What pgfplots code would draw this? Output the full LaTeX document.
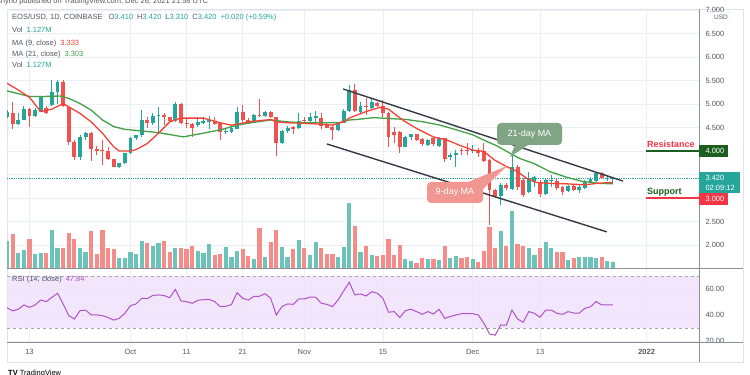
\documentclass[border=0pt]{standalone}
\usepackage{pgfplots}
\pgfplotsset{compat=1.18}
\usepackage{fontspec}
\setmainfont{Liberation Sans}
\definecolor{cup}{RGB}{38,166,154}
\definecolor{cdn}{RGB}{239,83,80}
\definecolor{vup}{RGB}{108,195,186}
\definecolor{vdn}{RGB}{245,140,137}
\definecolor{gridc}{RGB}{234,238,245}
\definecolor{txt}{RGB}{85,88,98}
\definecolor{maR}{RGB}{244,67,54}
\definecolor{maG}{RGB}{67,160,71}
\definecolor{rsiC}{RGB}{178,82,200}
\definecolor{band}{RGB}{238,224,250}
\definecolor{sep}{RGB}{140,143,152}
\definecolor{frame}{RGB}{224,227,235}
\definecolor{chan}{RGB}{54,58,69}
\definecolor{boxG}{RGB}{128,165,132}
\definecolor{boxR}{RGB}{242,150,145}
\definecolor{resR}{RGB}{242,54,69}
\definecolor{supG}{RGB}{27,94,32}
\pgfplotsset{
  base/.style={scale only axis, width=692pt, xmin=-4.01, xmax=119.34,
    axis line style={draw=none}, major tick length=0pt, xticklabels={}, yticklabels={},
    unbounded coords=jump},
  pane/.style={base, at={(7pt,107pt)}, anchor=south west, height=258pt, ymin=1.511, ymax=7.0},
}
\newcommand{\sm}{\fontsize{7.5}{8}\selectfont}
\begin{document}
\begin{tikzpicture}[x=1pt,y=1pt]
\useasboundingbox (0,0) rectangle (750,375);
\clip (0,0) rectangle (750,375);
\fill[white] (0,0) rectangle (750,375);
% frame
\draw[frame, line width=0.8pt] (7,13) rectangle (743,366);
% price grid + scale
\begin{axis}[pane, xtick={0,18,28,38,49,63,79,91,110}, ytick={2,2.5,3,3.5,4,4.5,5,5.5,6,6.5,7},
  grid=major, grid style={gridc, line width=0.7pt},
  yticklabel pos=right, yticklabels={2.000,2.500,,,,4.500,5.000,5.500,6.000,6.500,7.000},
  yticklabel style={font=\sm, text=txt, anchor=west, xshift=3pt}]
\end{axis}
% volume
\begin{axis}[pane, ymin=0, ymax=258, xtick=\empty, ytick=\empty]
\addplot[ycomb, vup, line width=4.2pt] coordinates {(-4,27)(-2,15)(-1,18)(1,14)(2,15)(4,38)(5,20)(9,20)(10,16)(16,10)(17,10)(18,16)(19,14)(20,27)(22,22)(23,25)(26,20)(30,17)(31,15)(32,24)(35,21)(36,11)(37,17)(40,9)(42,11)(45,21)(46,11)(48,28)(50,13)(51,26)(55,11)(56,21)(57,65)(59,16)(61,13)(67,9)(68,7)(71,9)(73,8)(75,10)(76,12)(79,9)(84,37)(86,57)(89,20)(90,13)(92,26)(93,20)(96,8)(98,11)(99,11)(100,11)(101,10)(103,7)(104,6)};
\addplot[ycomb, vdn, line width=4.2pt] coordinates {(-3,34)(0,29)(3,15)(6,20)(7,35)(8,29)(11,37)(12,14)(13,38)(14,20)(15,19)(21,25)(24,27)(25,16)(27,20)(28,19)(29,22)(33,13)(34,14)(38,19)(39,12)(41,40)(43,26)(44,38)(47,19)(49,20)(52,20)(53,14)(54,14)(58,42)(60,22)(62,12)(63,13)(64,29)(65,13)(66,23)(69,5)(70,10)(72,9)(74,22)(77,10)(78,11)(80,6)(81,17)(82,41)(83,20)(85,22)(87,24)(88,22)(91,20)(94,16)(95,16)(97,10)(102,11)};
\end{axis}
% candles and overlays
\begin{axis}[pane, xtick=\empty, ytick=\empty]
\addplot[cup, densely dotted, line width=0.8pt] coordinates {(-4.01,3.42)(119.34,3.42)};
% green wicks
\addplot[cup, line width=0.9pt] coordinates {
(-4,4.70)(-4,4.87)(-4,nan)(-2,4.55)(-2,4.80)(-2,nan)(-1,4.66)(-1,4.957)(-1,nan)(1,4.73)(1,4.91)(1,nan)
(2,4.82)(2,5.16)(2,nan)(4,4.96)(4,5.52)(4,nan)(5,5.01)(5,5.51)(5,nan)(9,3.81)(9,4.34)(9,nan)
(10,4.23)(10,4.41)(10,nan)(16,3.645)(16,3.75)(16,nan)(17,3.72)(17,3.96)(17,nan)(18,3.94)(18,4.30)(18,nan)
(19,4.23)(19,4.35)(19,nan)(20,4.30)(20,4.87)(20,nan)(22,4.55)(22,4.815)(22,nan)(23,4.38)(23,4.93)(23,nan)
(26,4.62)(26,5.05)(26,nan)(30,4.52)(30,4.73)(30,nan)(31,4.57)(31,4.73)(31,nan)(32,4.46)(32,4.74)(32,nan)
(35,4.36)(35,4.46)(35,nan)(36,4.38)(36,4.52)(36,nan)(37,4.46)(37,4.93)(37,nan)(40,4.60)(40,4.79)(40,nan)
(42,4.73)(42,4.86)(42,nan)(45,4.15)(45,4.45)(45,nan)(46,4.39)(46,4.53)(46,nan)(48,4.46)(48,4.80)(48,nan)
(50,4.62)(50,4.815)(50,nan)(51,4.60)(51,4.86)(51,nan)(55,4.43)(55,4.62)(55,nan)(56,4.59)(56,4.89)(56,nan)
(57,4.84)(57,5.40)(57,nan)(59,4.80)(59,5.05)(59,nan)(61,4.89)(61,5.10)(61,nan)(67,4.08)(67,4.32)(67,nan)
(68,4.23)(68,4.37)(68,nan)(71,4.11)(71,4.25)(71,nan)(73,4.09)(73,4.30)(73,nan)(75,3.81)(75,3.95)(75,nan)
(76,3.67)(76,4.02)(76,nan)(79,3.96)(79,4.13)(79,nan)(84,2.85)(84,3.31)(84,nan)(86,3.17)(86,3.915)(86,nan)
(89,3.11)(89,3.56)(89,nan)(90,3.23)(90,3.47)(90,nan)(92,3.06)(92,3.42)(92,nan)(93,3.23)(93,3.49)(93,nan)
(96,3.135)(96,3.275)(96,nan)(98,3.10)(98,3.275)(98,nan)(99,3.19)(99,3.38)(99,nan)(100,3.33)(100,3.44)(100,nan)
(101,3.35)(101,3.56)(101,nan)(103,3.37)(103,3.47)(103,nan)(104,3.31)(104,3.42)(104,nan)};
% green bodies
\addplot[cup, line width=3.9pt] coordinates {
(-4,4.73)(-4,4.84)(-4,nan)(-2,4.574)(-2,4.67)(-2,nan)(-1,4.67)(-1,4.886)(-1,nan)(1,4.744)(1,4.87)(1,nan)
(2,4.84)(2,5.14)(2,nan)(4,4.98)(4,5.26)(4,nan)(5,5.26)(5,5.47)(5,nan)(9,3.865)(9,4.30)(9,nan)
(10,4.30)(10,4.39)(10,nan)(16,3.67)(16,3.74)(16,nan)(17,3.74)(17,3.95)(17,nan)(18,3.95)(18,4.27)(18,nan)
(19,4.27)(19,4.33)(19,nan)(20,4.33)(20,4.66)(20,nan)(22,4.59)(22,4.74)(22,nan)(23,4.75)(23,4.77)(23,nan)
(26,4.645)(26,5.01)(26,nan)(30,4.55)(30,4.62)(30,nan)(31,4.60)(31,4.645)(31,nan)(32,4.625)(32,4.66)(32,nan)
(35,4.40)(35,4.425)(35,nan)(36,4.41)(36,4.48)(36,nan)(37,4.46)(37,4.84)(37,nan)(40,4.625)(40,4.77)(40,nan)
(42,4.745)(42,4.84)(42,nan)(45,4.16)(45,4.43)(45,nan)(46,4.43)(46,4.50)(46,nan)(48,4.48)(48,4.645)(48,nan)
(50,4.645)(50,4.72)(50,nan)(51,4.70)(51,4.74)(51,nan)(55,4.45)(55,4.60)(55,nan)(56,4.60)(56,4.86)(56,nan)
(57,4.86)(57,5.30)(57,nan)(59,4.84)(59,4.95)(59,nan)(61,4.91)(61,5.05)(61,nan)(67,4.09)(67,4.30)(67,nan)
(68,4.30)(68,4.36)(68,nan)(71,4.13)(71,4.23)(71,nan)(73,4.11)(73,4.27)(73,nan)(75,3.88)(75,3.92)(75,nan)
(76,3.915)(76,3.96)(76,nan)(79,4.00)(79,4.03)(79,nan)(84,3.04)(84,3.27)(84,nan)(86,3.20)(86,3.67)(86,nan)
(89,3.135)(89,3.42)(89,nan)(90,3.33)(90,3.44)(90,nan)(92,3.085)(92,3.38)(92,nan)(93,3.355)(93,3.38)(93,nan)
(96,3.155)(96,3.255)(96,nan)(98,3.17)(98,3.23)(98,nan)(99,3.205)(99,3.35)(99,nan)(100,3.35)(100,3.40)(100,nan)
(101,3.36)(101,3.525)(101,nan)(103,3.40)(103,3.43)(103,nan)(104,3.41)(104,3.42)(104,nan)};
% red wicks
\addplot[cdn, line width=0.9pt] coordinates {
(-3,4.46)(-3,5.05)(-3,nan)(0,4.52)(0,4.91)(0,nan)(3,4.78)(3,4.96)(3,nan)(6,4.93)(6,5.51)(6,nan)
(7,4.13)(7,4.93)(7,nan)(8,3.81)(8,4.23)(8,nan)(11,3.79)(11,4.41)(11,nan)(12,3.92)(12,4.11)(12,nan)
(13,3.70)(13,4.23)(13,nan)(14,3.81)(14,4.09)(14,nan)(15,3.65)(15,3.84)(15,nan)(21,4.50)(21,4.72)(21,nan)
(24,4.55)(24,4.80)(24,nan)(25,4.62)(25,4.73)(25,nan)(27,4.57)(27,5.03)(27,nan)(28,4.48)(28,4.69)(28,nan)
(29,4.30)(29,4.59)(29,nan)(33,4.55)(33,4.72)(33,nan)(34,4.23)(34,4.62)(34,nan)(38,4.62)(38,4.98)(38,nan)
(39,4.59)(39,4.70)(39,nan)(41,4.73)(41,5.10)(41,nan)(43,4.695)(43,4.86)(43,nan)(44,3.89)(44,4.73)(44,nan)
(47,4.37)(47,4.53)(47,nan)(49,4.59)(49,4.73)(49,nan)(52,4.46)(52,4.80)(52,nan)(53,4.48)(53,4.59)(53,nan)
(54,4.23)(54,4.55)(54,nan)(58,4.82)(58,5.42)(58,nan)(60,4.77)(60,5.12)(60,nan)(62,4.93)(62,5.05)(62,nan)
(63,4.73)(63,5.09)(63,nan)(64,4.09)(64,4.82)(64,nan)(65,4.16)(65,4.52)(65,nan)(66,3.95)(66,4.43)(66,nan)
(69,4.22)(69,4.37)(69,nan)(70,4.11)(70,4.27)(70,nan)(72,4.11)(72,4.30)(72,nan)(74,3.77)(74,4.28)(74,nan)
(77,3.915)(77,4.06)(77,nan)(78,3.915)(78,4.16)(78,nan)(80,3.88)(80,4.06)(80,nan)(81,3.77)(81,4.16)(81,nan)
(82,2.42)(82,3.84)(82,nan)(83,2.99)(83,3.20)(83,nan)(85,3.17)(85,3.31)(85,nan)(87,3.17)(87,3.70)(87,nan)
(88,3.03)(88,3.42)(88,nan)(91,3.03)(91,3.38)(91,nan)(94,3.17)(94,3.40)(94,nan)(95,3.06)(95,3.255)(95,nan)
(97,3.155)(97,3.275)(97,nan)(102,3.40)(102,3.56)(102,nan)};
% red bodies
\addplot[cdn, line width=3.9pt] coordinates {
(-3,4.815)(-3,4.574)(-3,nan)(0,4.886)(0,4.744)(0,nan)(3,4.91)(3,4.80)(3,nan)(6,5.47)(6,4.96)(6,nan)
(7,4.93)(7,4.20)(7,nan)(8,4.20)(8,3.88)(8,nan)(11,4.39)(11,4.035)(11,nan)(12,4.04)(12,4.01)(12,nan)
(13,4.02)(13,3.99)(13,nan)(14,3.99)(14,3.82)(14,nan)(15,3.82)(15,3.67)(15,nan)(21,4.66)(21,4.60)(21,nan)
(24,4.77)(24,4.73)(24,nan)(25,4.72)(25,4.645)(25,nan)(27,5.01)(27,4.59)(27,nan)(28,4.59)(28,4.57)(28,nan)
(29,4.57)(29,4.50)(29,nan)(33,4.645)(33,4.575)(33,nan)(34,4.59)(34,4.41)(34,nan)(38,4.84)(38,4.66)(38,nan)
(39,4.66)(39,4.60)(39,nan)(41,4.77)(41,4.75)(41,nan)(43,4.84)(43,4.73)(43,nan)(44,4.72)(44,4.16)(44,nan)
(47,4.52)(47,4.47)(47,nan)(49,4.66)(49,4.64)(49,nan)(52,4.70)(52,4.53)(52,nan)(53,4.55)(53,4.50)(53,nan)
(54,4.52)(54,4.45)(54,nan)(58,5.30)(58,4.86)(58,nan)(60,4.96)(60,4.93)(60,nan)(62,5.03)(62,4.96)(62,nan)
(63,4.96)(63,4.80)(63,nan)(64,4.80)(64,4.30)(64,nan)(65,4.41)(65,4.34)(65,nan)(66,4.41)(66,4.09)(66,nan)
(69,4.36)(69,4.23)(69,nan)(70,4.25)(70,4.15)(70,nan)(72,4.27)(72,4.15)(72,nan)(74,4.27)(74,3.84)(74,nan)
(77,4.02)(77,3.99)(77,nan)(78,4.02)(78,3.99)(78,nan)(80,4.02)(80,3.95)(80,nan)(81,4.01)(81,3.79)(81,nan)
(82,3.81)(82,3.17)(82,nan)(83,3.17)(83,3.04)(83,nan)(85,3.27)(85,3.205)(85,nan)(87,3.67)(87,3.23)(87,nan)
(88,3.38)(88,3.06)(88,nan)(91,3.33)(91,3.085)(91,nan)(94,3.37)(94,3.21)(94,nan)(95,3.23)(95,3.135)(95,nan)
(97,3.255)(97,3.17)(97,nan)(102,3.525)(102,3.42)(102,nan)};
% moving averages
\addplot[maG, line width=1.3pt] coordinates {(-4,5.28)(0,5.16)(2.5,5.16)(5.4,5.17)(7,5.12)(9,5.01)(11,4.87)(13,4.66)(15,4.52)(17,4.46)(19.7,4.43)(23,4.39)(25,4.35)(27.4,4.30)(31,4.38)(34,4.45)(37,4.55)(40,4.61)(43,4.66)(46,4.62)(49,4.60)(55,4.60)(57,4.66)(58.3,4.67)(61.3,4.71)(64.3,4.69)(67.2,4.67)(70.2,4.62)(73.2,4.55)(76.1,4.45)(79.1,4.34)(81,4.23)(83.3,4.11)(85.7,3.95)(87.4,3.84)(89.8,3.74)(92.8,3.56)(95.8,3.44)(98.7,3.35)(101.7,3.31)(104,3.303)};
\addplot[maR, line width=1.3pt] coordinates {(-4,5.44)(-2,5.30)(0,5.14)(2,4.84)(4,4.89)(6,5.01)(7,4.94)(9,4.80)(11,4.62)(13,4.38)(15,4.09)(16,4.00)(18,4.00)(19,4.03)(21,4.16)(23,4.38)(25,4.62)(27,4.70)(31,4.70)(34,4.60)(36,4.55)(37,4.57)(39,4.62)(41,4.645)(43,4.67)(44,4.62)(46,4.60)(49,4.59)(52,4.57)(54,4.55)(56,4.62)(57,4.70)(60,4.84)(62.5,4.93)(64,4.89)(66.5,4.66)(69,4.48)(72,4.30)(74.5,4.23)(76.5,4.13)(79,4.02)(81,3.99)(83,3.80)(85,3.67)(87,3.56)(88.6,3.42)(90.4,3.33)(93,3.31)(96,3.30)(99,3.28)(101,3.31)(104,3.333)};
% channel
\addplot[chan, line width=1.4pt] coordinates {(55.9,5.32)(105.8,3.36)};
\addplot[chan, line width=1.4pt] coordinates {(53.0,4.15)(102.9,2.28)};
% resistance / support
\addplot[supG, line width=1.4pt] coordinates {(109.9,4.0)(119.34,4.0)};
\addplot[resR, line width=1.4pt] coordinates {(109.9,3.0)(119.34,3.0)};
\end{axis}
% RSI pane
\begin{axis}[base, at={(7pt,33pt)}, anchor=south west, height=74pt, ymin=19.2, ymax=76.15,
  xtick={0,18,28,38,49,63,79,91,110}, ytick={20,40,60}, grid=major, grid style={gridc, line width=0.7pt},
  yticklabel pos=right, yticklabels={20.00,40.00,60.00}, yticklabel style={font=\sm, text=txt, anchor=west, xshift=3pt},
  xticklabels={13,Oct,11,21,Nov,15,Dec,13,\textbf{2022}}, xticklabel style={font=\sm, text=txt, yshift=-4pt}]
\addplot[fill=band, fill opacity=0.8, draw=none] coordinates {(-4.01,30)(119.34,30)(119.34,70)(-4.01,70)} -- cycle;
\addplot[gray!70, dashed, line width=0.6pt] coordinates {(-4.01,70)(119.34,70)};
\addplot[gray!70, dashed, line width=0.6pt] coordinates {(-4.01,30)(119.34,30)};
\addplot[rsiC, line width=1pt] coordinates {(-4,45.6)(-3,43.1)(-2,44.4)(-1,47.7)(0,45.9)(1,47.7)(2,51.5)(3,50.3)(4,53.6)(5,56.7)(6,48.5)(7,39.5)(8,36.9)(9,43.3)(10,43.8)(11,40.0)(12,40.0)(13,39.5)(14,38.0)(15,36.1)(16,37.4)(17,41.3)(18,47.2)(19,48.5)(20,52.8)(21,52.6)(22,55.1)(23,55.4)(24,54.9)(25,53.3)(26,59.7)(27,50.8)(28,50.3)(29,49.0)(30,51.3)(31,51.8)(32,52.0)(33,50.3)(34,46.4)(35,46.7)(36,48.0)(37,57.2)(38,52.8)(39,51.5)(40,54.4)(41,54.4)(42,56.4)(43,52.8)(44,40.0)(45,46.4)(46,48.5)(47,48.2)(48,52.3)(49,52.3)(50,53.8)(51,53.8)(52,49.0)(53,48.2)(54,46.4)(55,51.5)(56,58.5)(57,65.1)(58,55.4)(59,56.2)(60,54.6)(61,57.9)(62,56.7)(63,52.8)(64,42.1)(65,42.6)(66,38.0)(67,43.3)(68,44.4)(69,42.6)(70,40.5)(71,42.6)(72,40.8)(73,44.4)(74,37.4)(75,38.7)(76,40.0)(77,41.0)(78,41.0)(79,41.0)(80,40.0)(81,33.6)(82,25.4)(83,24.4)(84,32.3)(85,32.1)(86,43.8)(87,36.9)(88,34.4)(89,42.6)(90,41.3)(91,38.2)(92,43.8)(93,43.8)(94,41.3)(95,40.5)(96,42.6)(97,41.5)(98,41.5)(99,45.1)(100,46.4)(101,50.3)(102,47.7)(103,47.7)(104,47.84)};
\end{axis}
% cover cut part of 20.00
\fill[white] (700,24) rectangle (742,33);
% separators
\draw[sep, line width=0.9pt] (7,107) -- (743,107);
\draw[sep, line width=0.9pt] (7,33) -- (743,33);
\draw[sep, line width=0.9pt] (699,13) -- (699,366);
% price scale boxes
\fill[supG] (699,218) rectangle (728,230);
\node[text=white, font=\sm, anchor=west] at (702,224) {4.000};
\fill[cup] (699,182) rectangle (740,203);
\node[text=white, font=\sm, anchor=west] at (702,197.5) {3.420};
\node[text=white, font=\sm, anchor=west] at (702,187.5) {02:09:12};
\fill[resR] (699,170) rectangle (728,182);
\node[text=white, font=\sm, anchor=west] at (702,176) {3.000};
\draw[frame, fill=white, rounded corners=1.5pt] (712,352) rectangle (730,363);
\node[text=txt, font=\fontsize{6.5}{7}\selectfont] at (721,357.5) {USD};
% resistance/support text
\node[anchor=base west, text=resR, font=\fontsize{9}{10}\selectfont\bfseries, inner sep=0] at (647,227) {Resistance};
\node[anchor=base west, text=supG, font=\fontsize{9}{10}\selectfont\bfseries, inner sep=0] at (647,180) {Support};
% callouts
\fill[boxG] (515,230) -- (528,230) -- (510,218) -- cycle;
\fill[boxG, rounded corners=4pt] (497,230) rectangle (562,252);
\node[text=white, font=\fontsize{9}{10}\selectfont] at (529.5,241) {21-day MA};
\fill[boxR] (468,193) -- (483,186) -- (507,209) -- cycle;
\fill[boxR, rounded corners=4pt] (427,172) rectangle (483,193);
\node[text=white, font=\fontsize{9}{10}\selectfont] at (455,182.5) {9-day MA};
% legend
\node[anchor=base west, font=\sm, text=txt, inner sep=0] at (12,355) {EOS/USD, 1D, COINBASE\hspace{6pt}O\textcolor{cup}{3.410}\hspace{4pt}H\textcolor{cup}{3.420}\hspace{4pt}L\textcolor{cup}{3.310}\hspace{4pt}C\textcolor{cup}{3.420}\hspace{4pt}\textcolor{cup}{+0.020 (+0.59\%)}};
\node[anchor=base west, font=\sm, text=txt, inner sep=0] at (12,342) {Vol\hspace{4pt}\textcolor{cup}{1.127M}};
\node[anchor=base west, font=\sm, text=txt, inner sep=0] at (12,329) {MA (9, close)\hspace{4pt}\textcolor{maR}{3.333}};
\node[anchor=base west, font=\sm, text=txt, inner sep=0] at (12,318.5) {MA (21, close)\hspace{4pt}\textcolor{maG}{3.303}};
\node[anchor=base west, font=\sm, text=txt, inner sep=0] at (12,307) {Vol\hspace{4pt}\textcolor{cup}{1.127M}};
\node[anchor=base west, font=\sm, text=txt, inner sep=0] at (12,93) {RSI (14, close)\hspace{4pt}\textcolor{rsiC}{47.84}};
% title and logo
\node[anchor=base west, font=\sm, text=txt, inner sep=0] at (-3,371) {shyno published on TradingView.com, Dec 26, 2021 21:58 UTC};
\node[anchor=base west, font=\fontsize{7.5}{8}\selectfont, text=black, inner sep=0] at (8,-1) {\textbf{TV} TradingView};
\end{tikzpicture}
\end{document}
